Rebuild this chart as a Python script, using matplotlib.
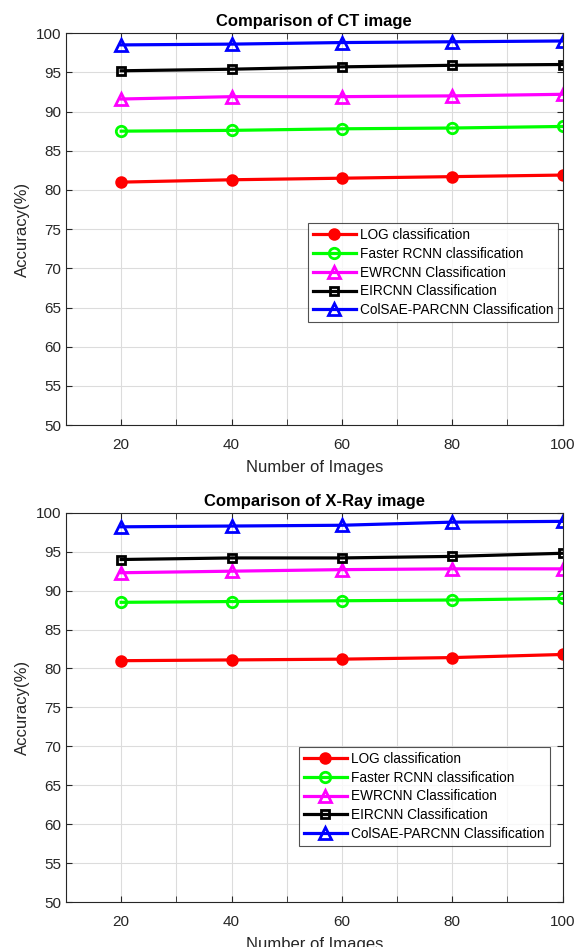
import matplotlib
matplotlib.use("Agg")
import matplotlib.pyplot as plt
from matplotlib.ticker import MultipleLocator

plt.rcParams['font.family'] = ['Liberation Sans', 'DejaVu Sans']

x = [20, 40, 60, 80, 100]
labels = ["LOG classification", "Faster RCNN classification", "EWRCNN Classification",
          "EIRCNN Classification", "ColSAE-PARCNN Classification"]

ct_log = [81.0, 81.3, 81.5, 81.7, 81.9]
ct_faster = [87.5, 87.6, 87.8, 87.9, 88.1]
ct_ewrcnn = [91.6, 91.9, 91.9, 92.0, 92.2]
ct_eircnn = [95.2, 95.4, 95.7, 95.9, 96.0]
ct_colsae = [98.5, 98.6, 98.8, 98.9, 99.0]

xr_log = [81.0, 81.1, 81.2, 81.4, 81.8]
xr_faster = [88.5, 88.6, 88.7, 88.8, 89.0]
xr_ewrcnn = [92.3, 92.5, 92.7, 92.8, 92.8]
xr_eircnn = [94.0, 94.2, 94.2, 94.4, 94.8]
xr_colsae = [98.2, 98.3, 98.4, 98.8, 98.9]

styles = [
    dict(color='#ff0000', marker='o', markerfacecolor='#ff0000', markersize=7),
    dict(color='#00ff00', marker='o', markerfacecolor='none', markersize=7.5),
    dict(color='#ff00ff', marker='^', markerfacecolor='none', markersize=8),
    dict(color='#000000', marker='s', markerfacecolor='none', markersize=6),
    dict(color='#0000ff', marker='^', markerfacecolor='none', markersize=8),
]

fig = plt.figure(figsize=(5.74, 9.47), dpi=100)
ax1 = fig.add_axes([0.115, 0.551, 0.865, 0.414])
ax2 = fig.add_axes([0.115, 0.0475, 0.865, 0.411])

def draw(ax, series, title, leg_anchor):
    for s, lab, st in zip(series, labels, styles):
        ax.plot(x, s, label=lab, linewidth=2.3, markeredgewidth=2, **st)
    ax.set_xlim(10, 100)
    ax.set_ylim(50, 100)
    ax.xaxis.set_major_locator(MultipleLocator(20))
    ax.xaxis.set_minor_locator(MultipleLocator(10))
    ax.yaxis.set_major_locator(MultipleLocator(5))
    ax.grid(True, which='both', color='#dcdcdc', linewidth=0.8)
    ax.set_axisbelow(True)
    ax.tick_params(which='both', direction='in', top=True, right=True, length=4,
                   color='#262626', labelsize=11, labelcolor='#262626')
    ax.tick_params(axis='x', which='major', pad=9)
    for sp in ax.spines.values():
        sp.set_color('#262626')
        sp.set_linewidth(0.8)
    ax.set_xlabel("Number of Images", fontsize=12, color='#262626', labelpad=6)
    ax.set_ylabel("Accuracy(%)", fontsize=12, color='#262626')
    ax.set_title(title, fontsize=12, fontweight='bold', pad=5)
    leg = ax.legend(loc='upper left', bbox_to_anchor=leg_anchor, fontsize=9.8,
                    frameon=True, fancybox=False, edgecolor='#262626',
                    borderaxespad=0,
                    handlelength=3.2, labelspacing=0.35, borderpad=0.35, handletextpad=0.3)
    leg.get_frame().set_linewidth(0.8)

draw(ax1, [ct_log, ct_faster, ct_ewrcnn, ct_eircnn, ct_colsae],
     "Comparison of CT image", (0.487, 0.515))
draw(ax2, [xr_log, xr_faster, xr_ewrcnn, xr_eircnn, xr_colsae],
     "Comparison of X-Ray image", (0.469, 0.398))

fig.savefig("out.png", dpi=100)
